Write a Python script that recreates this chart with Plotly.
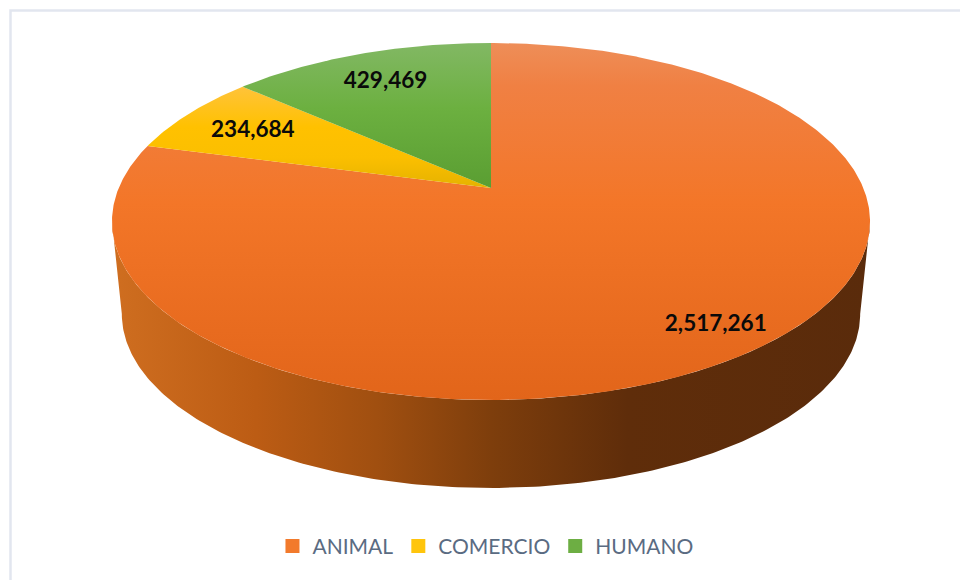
import numpy as np
import plotly.graph_objects as go

# --- data ---
categories = ["ANIMAL", "COMERCIO", "HUMANO"]
values = [2517261, 234684, 429469]
value_labels = ["2,517,261", "234,684", "429,469"]

# --- style ---
legend_colors = ["#F27A2C", "#FFC50C", "#6DAE43"]
# stops run from the top edge (0) to the bottom edge (1) of each slice
top_gradients = [
    [[0, "#EE8E58"], [0.12, "#F08043"], [0.45, "#F37628"], [1, "#E2651A"]],
    [[0, "#FFC33A"], [0.4, "#FFC100"], [0.7, "#FBBF00"], [1, "#E5B200"]],
    [[0, "#82B864"], [0.45, "#6CB040"], [1, "#5A9E32"]],
]
wall_gradient = [[0, "#CF6E20"], [0.19, "#BC5C14"], [0.35, "#A04F10"], [0.5, "#7E3E0C"],
                 [0.68, "#5F2D0A"], [1, "#5A2B0B"]]
label_radius = [0.863, 0.775, 0.78]
LABEL_DY = 2.0

# --- pie view: a tilted disc seen in perspective ---
CX, APEX_Y, A, B, K = 491.0, 188.0, 372.3, 172.2, 0.1876
BASE_SCALE, BASE_APEX_Y = 0.974, 281.5


def project(theta_deg, r=1.0, scale=1.0, apex_y=APEX_Y):
    t = np.radians(np.asarray(theta_deg, dtype=float))
    u, v = r * np.sin(t), r * np.cos(t)
    d = 1 + K * v
    return CX + scale * A * u / d, apex_y - scale * B * v / d


def flip(stops):
    # plotly's vertical fill gradient has its 0 at the bottom
    return [[1 - p, c] for p, c in reversed(stops)]


fig = go.Figure()

# side wall: from the left extreme of the disc, round the front, to the right extreme
widest = np.degrees(np.arccos(-K))
front = np.linspace(360 - widest, widest, 240)
x_top, y_top = project(front)
x_base, y_base = project(front[::-1], scale=BASE_SCALE, apex_y=BASE_APEX_Y)
fig.add_trace(go.Scatter(
    x=np.r_[x_top, x_base], y=np.r_[y_top, y_base], mode="lines", line=dict(width=0),
    fill="toself", fillgradient=dict(type="horizontal", colorscale=wall_gradient),
    showlegend=False, hoverinfo="skip"))

# top slices, clockwise from 12 o'clock
total = sum(values)
start = 0.0
label_xy = []
for name, val, grad, rad in zip(categories, values, top_gradients, label_radius):
    sweep = 360.0 * val / total
    arc = np.linspace(start, start + sweep, max(int(sweep * 2), 4))
    ax, ay = project(arc)
    fig.add_trace(go.Scatter(
        x=np.r_[CX, ax, CX], y=np.r_[APEX_Y, ay, APEX_Y], mode="lines", line=dict(width=0),
        fill="toself", fillgradient=dict(type="vertical", colorscale=flip(grad)),
        showlegend=False, name=name, hoverinfo="skip"))
    lx, ly = project(start + sweep / 2, r=rad)
    label_xy.append((float(lx), float(ly) + LABEL_DY))
    start += sweep

fig.add_trace(go.Scatter(
    x=[p[0] for p in label_xy], y=[p[1] for p in label_xy], mode="text", text=value_labels,
    textposition="middle center", textfont=dict(family="Lato", size=22.5, color="#0A0A0A", weight="bold"),
    showlegend=False, hoverinfo="skip"))

# legend entries
for name, col in zip(categories, legend_colors):
    fig.add_trace(go.Scatter(
        x=[None], y=[None], mode="markers", name=name,
        marker=dict(symbol="square", size=14, color=col)))

fig.update_layout(
    width=960, height=580, margin=dict(l=0, r=0, t=0, b=0),
    paper_bgcolor="white", plot_bgcolor="white",
    xaxis=dict(range=[0, 960], visible=False, fixedrange=True),
    yaxis=dict(range=[580, 0], visible=False, fixedrange=True),
    legend=dict(orientation="h", x=0.5057, xanchor="center", y=0.058, yanchor="middle",
                font=dict(family="Lato", size=21, color="#5A6B82"),
                bgcolor="rgba(0,0,0,0)", traceorder="normal"),
    shapes=[dict(type="rect", xref="paper", yref="paper", x0=10.5 / 960, x1=1.02,
                 y0=-0.02, y1=1 - 10.5 / 580, line=dict(color="#E2E6EF", width=2.5),
                 layer="below")],
)

fig.write_html("out.html", config={"displayModeBar": False},
               post_script="document.body.style.margin='0';")
